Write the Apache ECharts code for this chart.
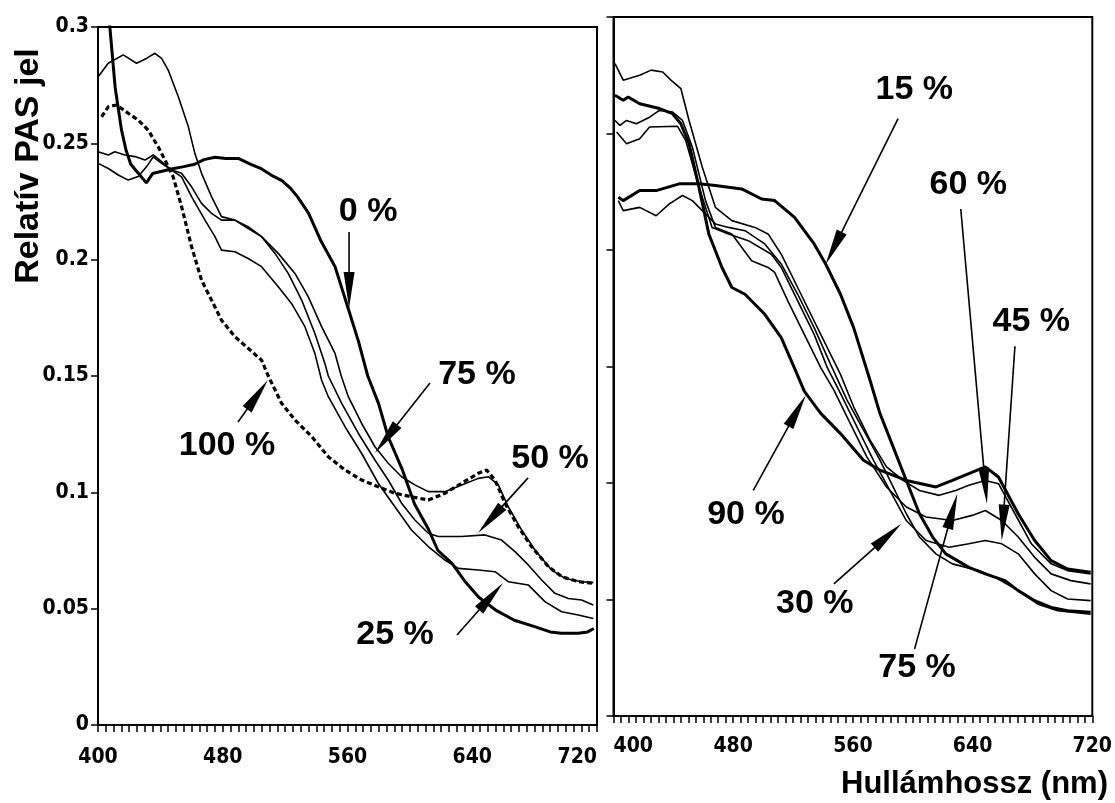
<!DOCTYPE html>
<html><head><meta charset="utf-8">
<script src="https://cdn.jsdelivr.net/npm/echarts@6/dist/echarts.min.js"></script>
<style>html,body{margin:0;padding:0;background:#fff}#c{width:1115px;height:803px}</style>
</head><body><div id="c"></div><script>
// ---------- Data (wavelength nm, relative PAS signal) ----------
const xTicks = [400, 480, 560, 640, 720];
const yTicks = [0, 0.05, 0.1, 0.15, 0.2, 0.25, 0.3];

// Left panel
const left0 = [[404,0.32],[407.6,0.300],[411,0.274],[415,0.256],[418,0.247],[421,0.241],[426,0.237],[431,0.233],[435,0.237],[441,0.238],[447,0.239],[455,0.240],[462,0.241],[468,0.243],[475,0.244],[482,0.2435],[490,0.2435],[498,0.241],[505,0.239],[512,0.236],[518,0.234],[523,0.231],[528,0.227],[535,0.220],[543,0.208],[552,0.197],[560,0.180],[567,0.165],[573,0.150],[580,0.138],[586,0.124],[595,0.110],[603,0.095],[612,0.084],[618,0.075],[627,0.0695],[635,0.062],[644,0.055],[655,0.0494],[667,0.045],[680,0.0423],[690,0.040],[697,0.0394],[708,0.0394],[714,0.040],[718,0.0415]];
const left25 = [[400.1,0.2414],[406.6,0.2392],[413,0.2364],[419.4,0.2342],[425.8,0.2357],[431.1,0.2399],[435.4,0.2442],[440.8,0.2414],[447.2,0.2385],[453.6,0.2356],[460,0.2271],[468.6,0.217],[475,0.2099],[479.2,0.2041],[487.8,0.2034],[496.3,0.2005],[504.9,0.197],[515.6,0.1884],[524.1,0.1812],[532.7,0.1712],[539.1,0.1597],[543.4,0.1482],[547.7,0.1411],[558.4,0.1282],[569,0.1168],[579.7,0.1039],[590.4,0.0938],[601,0.0838],[611.8,0.0767],[622.5,0.0709],[631,0.0673],[643.9,0.0666],[654.6,0.0659],[663.1,0.0616],[675.9,0.0602],[686.6,0.053],[697.3,0.0487],[708,0.0473],[717.6,0.0458]];
const left50 = [[400.1,0.2464],[406.6,0.245],[410.8,0.2464],[417.2,0.245],[423.7,0.2443],[430.1,0.2428],[435.4,0.245],[440.8,0.2421],[447.2,0.2385],[453.6,0.2371],[460,0.2313],[466.4,0.2242],[472.8,0.2199],[479.2,0.217],[487.8,0.217],[496.3,0.2142],[504.9,0.2099],[513.5,0.2027],[522,0.1941],[530.6,0.1826],[539.1,0.1683],[545.5,0.1554],[547.7,0.1500],[556.2,0.1383],[566.9,0.1254],[577.6,0.1139],[586.1,0.1053],[594.7,0.0953],[603.2,0.0881],[611.8,0.0824],[618.2,0.081],[633.2,0.081],[648.1,0.0817],[658.8,0.0795],[667.4,0.0745],[675.9,0.0688],[684.5,0.0623],[693,0.0566],[701.6,0.0544],[710.1,0.0537],[717.6,0.0516]];
const left75 = [[400.1,0.2786],[406.6,0.2844],[416.2,0.288],[424.7,0.2844],[431.1,0.2865],[436.5,0.2887],[440.8,0.2865],[445,0.2815],[451.5,0.27],[457.9,0.2572],[462.1,0.2457],[466.4,0.2371],[472.8,0.2271],[479.2,0.2185],[487.8,0.217],[496.3,0.2134],[504.9,0.2099],[515.6,0.2027],[526.3,0.1941],[534.8,0.1841],[543.4,0.1712],[552,0.1597],[556,0.1500],[560.5,0.1411],[569,0.1297],[577.6,0.1196],[586.1,0.1125],[594.7,0.1067],[603.2,0.1032],[611.8,0.1003],[622.5,0.1003],[633.2,0.1032],[643.9,0.106],[650.3,0.1067],[656.7,0.1032],[663.1,0.0938],[671.7,0.0838],[680.2,0.0752],[690.9,0.0666],[699.5,0.063],[710.1,0.0616],[717.6,0.0612]];
const left100 = [[402.3,0.2614],[406.6,0.2657],[411.9,0.2665],[419.4,0.2629],[425.8,0.260],[432.2,0.2557],[438.6,0.2485],[444,0.2414],[448.2,0.2356],[453.6,0.2228],[460,0.2056],[466.4,0.1912],[472.8,0.1826],[479.2,0.174],[487.8,0.1669],[496.3,0.1619],[504.9,0.1568],[509.2,0.1500],[517.7,0.1383],[526.3,0.1311],[537,0.124],[547.7,0.1153],[558.4,0.1096],[569,0.1053],[579.7,0.1024],[590.4,0.0996],[601,0.0981],[611.8,0.0967],[622.5,0.0996],[633.2,0.1039],[643.9,0.1082],[649.2,0.1096],[654.6,0.1053],[661,0.0953],[669.5,0.0852],[678,0.0767],[688.8,0.0681],[697.3,0.0638],[708,0.0616],[717.6,0.0609]];

// Right panel
const right15 = [[403.2,0.2226],[406.5,0.2212],[417.5,0.2255],[428.5,0.2255],[443.9,0.2284],[457.1,0.2284],[468.1,0.2277],[485.7,0.2262],[499,0.2219],[507.7,0.2212],[521,0.214],[534.1,0.2026],[541.8,0.194],[551.7,0.181],[560.5,0.1667],[571.5,0.1440],[578.1,0.1298],[586.9,0.1155],[595.7,0.1011],[604.5,0.0868],[613.3,0.0768],[622.1,0.0696],[637.5,0.0638],[648.5,0.061],[661.7,0.0581],[670.5,0.0538],[681.5,0.0495],[692.5,0.0466],[703.5,0.0452],[718.9,0.0445]];
const right30 = [[403.2,0.2212],[406.5,0.2169],[417.5,0.2183],[428.5,0.2147],[437.3,0.2198],[446.1,0.2234],[452.7,0.2212],[461.5,0.2155],[468.1,0.2112],[476.9,0.2097],[487.9,0.2083],[501.1,0.2026],[512.1,0.194],[523.1,0.181],[534.1,0.1667],[545.1,0.1509],[556.1,0.1356],[567.1,0.1227],[578.1,0.1098],[586.9,0.0983],[595.7,0.0868],[604.5,0.0768],[615.5,0.0696],[626.5,0.0653],[644.1,0.0624],[655.1,0.0595],[670.5,0.0538],[683.7,0.048],[696.9,0.0452],[718.9,0.0437]];
const right45 = [[402.1,0.2506],[408.7,0.2456],[417.5,0.2477],[424.1,0.2528],[442.8,0.2531],[448.3,0.247],[457.1,0.227],[465.9,0.2097],[476.9,0.2069],[490.1,0.204],[505.5,0.1982],[512.1,0.1925],[523.1,0.1782],[534.1,0.1638],[542.9,0.1495],[551.7,0.1385],[562.7,0.1241],[573.7,0.1098],[584.7,0.0968],[595.7,0.0839],[608.9,0.0753],[624.3,0.0724],[637.5,0.0739],[648.5,0.0753],[659.5,0.0739],[670.5,0.0696],[681.5,0.061],[692.5,0.0538],[703.5,0.0502],[718.9,0.0495]];
const right60 = [[401,0.2556],[404.3,0.2535],[408.7,0.2556],[415.3,0.2542],[424.1,0.257],[430.7,0.2599],[439.5,0.2592],[446.1,0.2556],[452.7,0.2442],[461.5,0.2212],[468.1,0.2097],[479.1,0.2069],[492.3,0.1954],[503.3,0.1925],[507.7,0.1904],[516.5,0.1782],[527.5,0.1638],[538.5,0.1495],[547.3,0.1399],[558.3,0.1255],[569.3,0.1112],[582.5,0.0983],[595.7,0.0897],[608.9,0.0854],[626.5,0.0839],[639.7,0.0861],[648.5,0.0882],[659.5,0.0839],[670.5,0.0768],[681.5,0.0681],[692.5,0.061],[705.7,0.0581],[718.9,0.0567]];
const right75 = [[401,0.28],[406.5,0.2729],[417.5,0.275],[425.2,0.2772],[432.9,0.2764],[438.4,0.2729],[445,0.2693],[450.5,0.2556],[459.3,0.2356],[468.1,0.2183],[479.1,0.2126],[494.5,0.2097],[503.3,0.2069],[512.1,0.1982],[525.3,0.181],[538.5,0.1638],[551.7,0.1466],[560.5,0.1327],[571.5,0.1184],[582.5,0.1069],[593.5,0.1011],[604.5,0.0968],[617.7,0.0947],[628.7,0.0968],[637.5,0.099],[648.5,0.1011],[657.3,0.0997],[668.3,0.0868],[679.3,0.0739],[692.5,0.0653],[703.5,0.0624],[718.9,0.061]];
const right90 = [[401,0.2664],[406.5,0.2643],[409.8,0.2657],[417.5,0.2628],[430.7,0.2607],[439.5,0.2585],[445,0.2542],[450.5,0.2456],[457.1,0.227],[463.7,0.2069],[472.5,0.1925],[479.1,0.1839],[487.9,0.181],[501.1,0.1724],[512.1,0.1624],[520.9,0.1494],[527.5,0.1394],[538.5,0.1299],[551.7,0.1212],[567.1,0.1098],[578.1,0.1055],[595.7,0.1011],[615.5,0.0983],[626.5,0.1011],[637.5,0.104],[648.5,0.1069],[657.3,0.1026],[670.5,0.0868],[681.5,0.0753],[692.5,0.0667],[703.5,0.0631],[718.9,0.0617]];

// Annotations: [text, wavelength, value] and arrows [fromX, fromY, tipX, tipY] in data units
const leftLabels = [['0 %',573.2,0.2205],['75 %',643,0.1504],['100 %',482.7,0.1199],['50 %',689.9,0.1143],['25 %',590.5,0.0387]];
const leftArrows = [[561,0.2119,561,0.1792],[612.9,0.147,577.6,0.1169],[489.8,0.1302,509,0.1483],[675.8,0.1062,643.7,0.0825],[630.2,0.0387,659.7,0.061]];
const rightLabels = [['15 %',601,0.2687],['60 %',637.1,0.2279],['45 %',679.2,0.1691],['75 %',602.9,0.0206],['90 %',488.5,0.0863],['30 %',534.5,0.0481]];
const rightArrows = [[590.2,0.2564,541.8,0.1939],[632.1,0.2176,649.6,0.0911],[668.3,0.1587,659.5,0.0753],[601.2,0.0287,629.8,0.0954],[493.4,0.0968,528.6,0.1378],[547.3,0.0567,592.4,0.0825]];

const yName = 'Relatív PAS jel';
const xName = 'Hullámhossz (nm)';

// ---------- Chart ----------
const tickFont = "'Liberation Sans Narrow','DejaVu Sans Condensed','Liberation Sans',Arial,sans-serif";
const sans = "'Liberation Sans',Arial,Helvetica,sans-serif";
const chart = echarts.init(document.getElementById('c'), null, {renderer:'canvas'});

function xAxisFor(i, margin, alignMin, alignMax){
  return {type:'value', gridIndex:i, min:xTicks[0], max:xTicks[xTicks.length-1], interval:xTicks[1]-xTicks[0],
    axisLine:{show:true, onZero:false, lineStyle:{color:'#000', width:2}},
    axisTick:{show:true, length:7, lineStyle:{color:'#000', width:1.5}},
    minorTick:{show:true, splitNumber:16, length:7, lineStyle:{color:'#000', width:1.5}},
    splitLine:{show:false}, minorSplitLine:{show:false},
    axisLabel:{show:true, color:'#000', fontFamily:tickFont, fontWeight:'bold', fontSize:21, margin:margin,
      showMinLabel:true, showMaxLabel:true, alignMinLabel:alignMin, alignMaxLabel:alignMax}};
}
function yAxisFor(i, showLabel){
  return {type:'value', gridIndex:i, min:yTicks[0], max:yTicks[yTicks.length-1], interval:yTicks[1]-yTicks[0],
    axisLine:{show:true, onZero:false, lineStyle:{color:'#000', width:2}},
    axisTick:{show:true, length:7, lineStyle:{color:'#000', width:1.5}},
    splitLine:{show:false},
    axisLabel:{show:showLabel, color:'#000', fontFamily:tickFont, fontWeight:'bold', fontSize:21, margin:9,
      formatter:function(v){ return String(Math.round(v*100)/100); }}};
}
function lineSeries(data, xi, width, type){
  return {type:'line', xAxisIndex:xi, yAxisIndex:xi, data:data, showSymbol:false, symbol:'none', clip:true,
    animation:false, silent:true, lineStyle:{color:'#000', width:width, type:type||'solid'}};
}

const option = {
  backgroundColor:'#fff',
  animation:false,
  grid:[
    {left:98, right:518, top:27, bottom:78, show:true, borderColor:'#000', borderWidth:2, backgroundColor:'rgba(0,0,0,0)'},
    {left:613.5, right:15, top:17, bottom:87, show:true, borderColor:'#000', borderWidth:2, backgroundColor:'rgba(0,0,0,0)'}
  ],
  xAxis:[xAxisFor(0, 22, 'center', 'right'), xAxisFor(1, 20, 'left', 'center')],
  yAxis:[yAxisFor(0, true), yAxisFor(1, false)],
  series:[
    lineSeries(left0, 0, 3),
    lineSeries(left25, 0, 1.6),
    lineSeries(left50, 0, 1.6),
    lineSeries(left75, 0, 1.6),
    lineSeries(left100, 0, 3.2, [5,3]),
    lineSeries(right15, 1, 3),
    lineSeries(right30, 1, 1.6),
    lineSeries(right45, 1, 1.6),
    lineSeries(right60, 1, 1.6),
    lineSeries(right75, 1, 1.6),
    lineSeries(right90, 1, 3)
  ]
};
chart.setOption(option);

// annotations positioned from data coordinates
const graphics = [];
const annFont = 'bold 34px ' + sans;
function addLabels(labels, gi){
  labels.forEach(function(l){
    const p = chart.convertToPixel({gridIndex:gi}, [l[1], l[2]]);
    graphics.push({type:'text', x:p[0], y:p[1], silent:true,
      style:{text:l[0], font:annFont, fill:'#000', textAlign:'center', textVerticalAlign:'middle', align:'center', verticalAlign:'middle'}});
  });
}
function addArrows(arrows, gi){
  arrows.forEach(function(a){
    const s = chart.convertToPixel({gridIndex:gi}, [a[0], a[1]]);
    const t = chart.convertToPixel({gridIndex:gi}, [a[2], a[3]]);
    const dx = t[0]-s[0], dy = t[1]-s[1];
    const len = Math.sqrt(dx*dx+dy*dy);
    const ux = dx/len, uy = dy/len;
    const L = 36, W = 5.5;
    const bx = t[0]-ux*L, by = t[1]-uy*L;
    graphics.push({type:'line', silent:true, shape:{x1:s[0], y1:s[1], x2:bx+ux*4, y2:by+uy*4}, style:{stroke:'#000', lineWidth:1.6}});
    graphics.push({type:'polygon', silent:true, shape:{points:[[t[0],t[1]],[bx-uy*W, by+ux*W],[bx+uy*W, by-ux*W]]}, style:{fill:'#000'}});
  });
}
addLabels(leftLabels, 0); addArrows(leftArrows, 0);
addLabels(rightLabels, 1); addArrows(rightArrows, 1);
// axis titles
graphics.push({type:'text', silent:true, x:29, y:166, rotation:Math.PI/2,
  style:{text:yName, font:'bold 34px '+sans, fill:'#000', textAlign:'center', textVerticalAlign:'middle', align:'center', verticalAlign:'middle'}});
graphics.push({type:'text', silent:true, x:1108, y:784,
  style:{text:xName, font:'bold 31px '+sans, fill:'#000', textAlign:'right', textVerticalAlign:'middle', align:'right', verticalAlign:'middle'}});
chart.setOption({graphic:graphics});
</script></body></html>
